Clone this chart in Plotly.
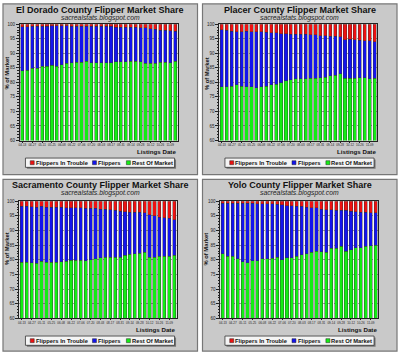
import plotly.graph_objects as go

# ---------------- data ----------------
dates = ["04-13", "04-20", "04-27", "05-04", "05-11", "05-18", "05-25", "06-01",
         "06-08", "06-15", "06-22", "06-29", "07-06", "07-13", "07-20", "07-27",
         "08-03", "08-10", "08-17", "08-24", "08-31", "09-07", "09-14", "09-21",
         "09-28", "10-05", "10-12", "10-19", "10-26", "11-02", "11-09", "11-16"]
tick_labels = ["04-13", "04-27", "05-11", "05-25", "06-08", "06-22", "07-06", "07-20",
               "08-03", "08-17", "08-31", "09-14", "09-28", "10-12", "10-26", "11-09"]

series_names = ["Flippers In Trouble", "Flippers", "Rest Of Market"]

eldorado_rest = [84.0, 84.2, 84.8, 84.8, 85.5, 85.5, 85.9, 85.5, 86.1, 86.6, 86.8, 86.9, 86.9, 87.2, 86.8, 86.7,
                 86.7, 86.8, 86.8, 87.1, 87.1, 87.1, 87.3, 87.2, 87.1, 86.6, 86.5, 86.5, 86.9, 86.9, 86.8, 87.3]
eldorado_flip = [15.2, 15.0, 14.5, 14.5, 13.8, 13.8, 13.5, 13.9, 13.3, 12.8, 12.5, 12.4, 12.4, 12.1, 12.5, 12.6,
                 12.6, 12.5, 12.5, 11.9, 11.9, 11.9, 11.7, 11.8, 11.7, 12.2, 12.0, 11.7, 11.0, 11.0, 11.0, 10.3]
eldorado_trouble = [0.8, 0.8, 0.7, 0.7, 0.7, 0.7, 0.6, 0.6, 0.6, 0.6, 0.7, 0.7, 0.7, 0.7, 0.7, 0.7,
                    0.7, 0.7, 0.7, 1.0, 1.0, 1.0, 1.0, 1.0, 1.2, 1.2, 1.5, 1.8, 2.1, 2.1, 2.2, 2.4]

placer_rest = [78.5, 78.5, 78.7, 79.2, 78.6, 78.5, 78.5, 78.2, 78.5, 78.6, 79.1, 79.4, 79.9, 80.5, 80.9, 81.2,
               81.2, 81.3, 81.4, 81.4, 81.6, 81.8, 82.3, 82.5, 83.0, 81.4, 81.4, 81.4, 81.6, 81.6, 81.3, 81.4]
placer_flip = [19.6, 19.4, 18.9, 18.2, 18.8, 19.1, 18.9, 19.2, 18.9, 18.6, 17.9, 17.6, 16.8, 16.2, 15.6, 15.3,
               15.3, 15.2, 14.9, 14.9, 14.5, 14.3, 13.5, 13.3, 12.6, 13.3, 13.5, 13.3, 12.9, 12.7, 13.0, 12.6]
placer_trouble = [1.9, 2.1, 2.4, 2.6, 2.6, 2.4, 2.6, 2.6, 2.6, 2.8, 3.0, 3.0, 3.3, 3.3, 3.5, 3.5,
                  3.5, 3.5, 3.7, 3.7, 3.9, 3.9, 4.2, 4.2, 4.4, 5.3, 5.1, 5.3, 5.5, 5.7, 5.7, 6.0]

sacramento_rest = [79.2, 79.2, 79.0, 78.8, 79.6, 79.2, 79.2, 79.2, 79.4, 79.6, 79.9, 79.9, 79.9, 79.7, 80.1, 80.3,
                   80.7, 80.9, 80.9, 80.9, 80.9, 81.5, 81.9, 82.1, 82.3, 82.6, 80.8, 80.8, 81.2, 81.2, 81.2, 81.5]
sacramento_flip = [19.0, 19.0, 19.1, 19.2, 18.6, 18.8, 18.8, 18.8, 18.6, 18.2, 17.9, 17.8, 17.8, 17.8, 17.4, 17.2,
                   16.6, 16.3, 16.2, 16.0, 15.7, 14.9, 14.3, 14.1, 13.9, 13.4, 14.5, 14.3, 13.4, 13.2, 13.0, 12.2]
sacramento_trouble = [1.8, 1.8, 1.9, 2.0, 1.8, 2.0, 2.0, 2.0, 2.0, 2.2, 2.2, 2.3, 2.3, 2.5, 2.5, 2.5,
                      2.7, 2.8, 2.9, 3.1, 3.4, 3.6, 3.8, 3.8, 3.8, 4.0, 4.7, 4.9, 5.4, 5.6, 5.8, 6.3]

yolo_rest = [82.0, 81.2, 81.2, 80.3, 79.4, 79.0, 79.7, 79.7, 80.3, 80.3, 80.6, 80.8, 80.1, 80.7, 80.7, 81.2,
             81.7, 82.1, 82.6, 82.9, 82.8, 82.6, 83.9, 83.9, 84.6, 83.0, 83.5, 84.1, 84.1, 84.6, 84.8, 85.0]
yolo_flip = [17.3, 18.1, 18.1, 19.0, 19.9, 20.3, 19.6, 19.4, 18.8, 18.8, 18.5, 18.1, 18.6, 17.7, 17.7, 17.0,
             16.5, 15.9, 15.2, 14.9, 14.5, 14.5, 13.2, 13.0, 12.3, 13.9, 13.1, 12.3, 12.1, 11.6, 11.2, 11.0]
yolo_trouble = [0.7, 0.7, 0.7, 0.7, 0.7, 0.7, 0.7, 0.9, 0.9, 0.9, 0.9, 1.1, 1.3, 1.6, 1.6, 1.8,
                1.8, 2.0, 2.2, 2.2, 2.7, 2.9, 2.9, 3.1, 3.1, 3.1, 3.4, 3.6, 3.8, 3.8, 4.0, 4.0]

titles = ["El Dorado County Flipper Market Share", "Placer County Flipper Market Share",
          "Sacramento County Flipper Market Share", "Yolo County Flipper Market Share"]
subtitle = "sacrealstats.blogspot.com"
y_title = "% of Market"
x_title = "Listings Date"
y_ticks = [60, 65, 70, 75, 80, 85, 90, 95, 100]

county_data = [
    (eldorado_rest, eldorado_flip, eldorado_trouble),
    (placer_rest, placer_flip, placer_trouble),
    (sacramento_rest, sacramento_flip, sacramento_trouble),
    (yolo_rest, yolo_flip, yolo_trouble),
]

# ---------------- styling / geometry ----------------
W, H = 400, 356
FONT = "Liberation Sans"
C_RED, C_BLUE, C_GREEN = "#EE1111", "#1414EE", "#14EE14"
PANEL_FILL, PANEL_LINE = "#C9C9C9", "#777777"

def px(x):
    return x / W

def py(y):
    return 1 - y / H

# panel boxes (left, top, right, bottom) and plot areas (left, top, right, bottom) in pixels
panels = [
    ((2, 2, 197, 175), (19, 22.5, 177, 140.5)),
    ((202, 2, 397, 175), (219, 22.5, 377, 140.5)),
    ((2, 180, 197, 354), (18.5, 202, 176, 321)),
    ((202, 180, 397, 354), (220, 202, 378, 321)),
]

fig = go.Figure()
shapes = []
annotations = []
layout_axes = {}

for k, ((bx0, by0, bx1, by1), (ax0, ay0, ax1, ay1)) in enumerate(panels):
    rest, flip, trouble = county_data[k]
    xa = "x" if k == 0 else f"x{k+1}"
    ya = "y" if k == 0 else f"y{k+1}"
    for vals, name, col in ((rest, series_names[2], C_GREEN),
                            (flip, series_names[1], C_BLUE),
                            (trouble, series_names[0], C_RED)):
        fig.add_trace(go.Bar(x=dates, y=vals, name=name, xaxis=xa, yaxis=ya,
                             marker=dict(color=col, line=dict(color="#333333", width=0.4)),
                             showlegend=False))
    xkey = "xaxis" if k == 0 else f"xaxis{k+1}"
    ykey = "yaxis" if k == 0 else f"yaxis{k+1}"
    layout_axes[xkey] = dict(
        domain=[px(ax0), px(ax1)], anchor=ya, type="category",
        tickmode="array", tickvals=tick_labels, ticktext=tick_labels, tickangle=0,
        tickfont=dict(size=3.0, family=FONT, color="#222"),
        ticks="outside", ticklen=1, tickcolor="#222",
        showline=True, linecolor="#222", linewidth=1, mirror=True,
        showgrid=False, zeroline=False, fixedrange=True)
    layout_axes[ykey] = dict(
        domain=[py(ay1), py(ay0)], anchor=xa, range=[60, 100],
        tickvals=y_ticks, tickfont=dict(size=4.5, family=FONT, color="#222"),
        ticks="outside", ticklen=3, tickcolor="#222",
        minor=dict(dtick=1, ticks="outside", ticklen=1.5, tickcolor="#222", showgrid=False),
        showline=True, linecolor="#222", linewidth=1, mirror=True,
        showgrid=True, gridcolor="#9a9a9a", griddash="dot", gridwidth=0.6,
        zeroline=False, fixedrange=True)

    # panel background + plot area background
    shapes.append(dict(type="rect", xref="paper", yref="paper", layer="below",
                       x0=px(bx0), x1=px(bx1), y0=py(by1), y1=py(by0),
                       fillcolor=PANEL_FILL, line=dict(color=PANEL_LINE, width=1.2)))
    shapes.append(dict(type="rect", xref="paper", yref="paper", layer="below",
                       x0=px(ax0), x1=px(ax1), y0=py(ay1), y1=py(ay0),
                       fillcolor="#F7F7F7", line=dict(width=0)))

    cx = (bx0 + bx1) / 2
    annotations.append(dict(text=f"<b>{titles[k]}</b>", x=px(cx), y=py(by0 + 5.8),
                            xref="paper", yref="paper", showarrow=False,
                            xanchor="center", yanchor="middle",
                            font=dict(size=9, family=FONT, color="#111")))
    annotations.append(dict(text=f"<i>{subtitle}</i>", x=px(cx), y=py(by0 + 14),
                            xref="paper", yref="paper", showarrow=False,
                            xanchor="center", yanchor="middle",
                            font=dict(size=6.8, family=FONT, color="#222")))
    annotations.append(dict(text=f"<b>{y_title}</b>", x=px(bx0 + 4.5), y=py(by0 + 70),
                            xref="paper", yref="paper", showarrow=False, textangle=-90,
                            xanchor="center", yanchor="middle",
                            font=dict(size=5.8, family=FONT, color="#111")))
    annotations.append(dict(text=f"<b>{x_title}</b>", x=px(ax1 - 0.5), y=py(ay1 + 10.8),
                            xref="paper", yref="paper", showarrow=False,
                            xanchor="right", yanchor="middle", borderpad=0,
                            font=dict(size=6.2, family=FONT, color="#111")))

    # legend box (drawn, one per panel)
    lx0, lx1 = bx0 + 22.5, bx0 + 172
    ly0, ly1 = ay1 + 17.8, ay1 + 27.2
    shapes.append(dict(type="rect", xref="paper", yref="paper", layer="above",
                       x0=px(lx0 + 1.5), x1=px(lx1 + 1.5), y0=py(ly1 + 1.5), y1=py(ly0 + 1.5),
                       fillcolor="#777777", line=dict(width=0)))
    shapes.append(dict(type="rect", xref="paper", yref="paper", layer="above",
                       x0=px(lx0), x1=px(lx1), y0=py(ly1), y1=py(ly0),
                       fillcolor="#F4F4F4", line=dict(color="#333", width=0.8)))
    lcy = (ly0 + ly1) / 2
    for sx, col, name in ((bx0 + 27.3, C_RED, series_names[0]),
                          (bx0 + 89.7, C_BLUE, series_names[1]),
                          (bx0 + 123.7, C_GREEN, series_names[2])):
        shapes.append(dict(type="rect", xref="paper", yref="paper", layer="above",
                           x0=px(sx), x1=px(sx + 4), y0=py(lcy + 2), y1=py(lcy - 2),
                           fillcolor=col, line=dict(color="#222", width=0.5)))
        annotations.append(dict(text=f"<b>{name}</b>", x=px(sx + 4.6), y=py(lcy),
                                xref="paper", yref="paper", showarrow=False,
                                xanchor="left", yanchor="middle", borderpad=0,
                                font=dict(size=5.8, family=FONT, color="#111")))

fig.update_layout(
    width=W, height=H, margin=dict(l=0, r=0, t=0, b=0),
    paper_bgcolor="white", plot_bgcolor="rgba(0,0,0,0)",
    barmode="stack", bargap=0.36, showlegend=False,
    shapes=shapes, annotations=annotations,
    font=dict(family=FONT),
    **layout_axes,
)

fig.write_html("out.html", config={"displayModeBar": False},
               post_script="document.body.style.margin='0';")
